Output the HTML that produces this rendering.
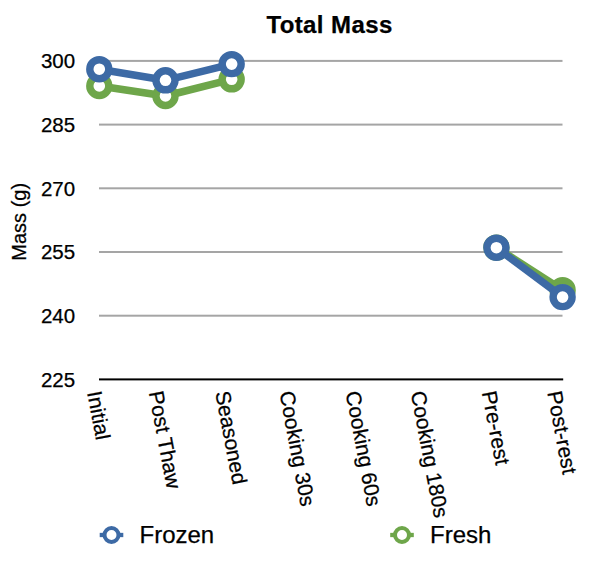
<!DOCTYPE html>
<html><head><meta charset="utf-8"><style>
html,body{margin:0;padding:0;background:#fff;}
svg{display:block;}
text{font-family:"Liberation Sans", sans-serif;fill:#000;stroke:#000;stroke-width:0.25px;}
</style></head><body>
<svg width="600" height="562" viewBox="0 0 600 562">
<rect x="99.0" y="59.90" width="463.5" height="2" fill="#a5a5a5"/>
<rect x="99.0" y="123.60" width="463.5" height="2" fill="#a5a5a5"/>
<rect x="99.0" y="187.30" width="463.5" height="2" fill="#a5a5a5"/>
<rect x="99.0" y="251.00" width="463.5" height="2" fill="#a5a5a5"/>
<rect x="99.0" y="314.70" width="463.5" height="2" fill="#a5a5a5"/>
<rect x="99.0" y="378.40" width="464.2" height="2" fill="#000"/>
<polyline points="99.30,86.00 165.49,96.00 231.67,79.30" fill="none" stroke="#6ea64a" stroke-width="7.5" stroke-linejoin="round"/>
<polyline points="496.41,247.60 562.60,290.20" fill="none" stroke="#6ea64a" stroke-width="7.5" stroke-linejoin="round"/>
<circle cx="99.30" cy="86.00" r="9.50" fill="#fff" stroke="#6ea64a" stroke-width="7.4"/>
<circle cx="165.49" cy="96.00" r="9.50" fill="#fff" stroke="#6ea64a" stroke-width="7.4"/>
<circle cx="231.67" cy="79.30" r="9.50" fill="#fff" stroke="#6ea64a" stroke-width="7.4"/>
<circle cx="496.41" cy="247.60" r="9.50" fill="#fff" stroke="#6ea64a" stroke-width="7.4"/>
<circle cx="562.60" cy="290.20" r="9.50" fill="#fff" stroke="#6ea64a" stroke-width="7.4"/>
<polyline points="99.30,69.20 165.49,80.30 231.67,64.10" fill="none" stroke="#3d6aa5" stroke-width="7.5" stroke-linejoin="round"/>
<polyline points="496.41,247.70 562.60,297.10" fill="none" stroke="#3d6aa5" stroke-width="7.5" stroke-linejoin="round"/>
<circle cx="99.30" cy="69.20" r="9.50" fill="#fff" stroke="#3d6aa5" stroke-width="7.4"/>
<circle cx="165.49" cy="80.30" r="9.50" fill="#fff" stroke="#3d6aa5" stroke-width="7.4"/>
<circle cx="231.67" cy="64.10" r="9.50" fill="#fff" stroke="#3d6aa5" stroke-width="7.4"/>
<circle cx="496.41" cy="247.70" r="9.50" fill="#fff" stroke="#3d6aa5" stroke-width="7.4"/>
<circle cx="562.60" cy="297.10" r="9.50" fill="#fff" stroke="#3d6aa5" stroke-width="7.4"/>
<text x="75.1" y="68.30" text-anchor="end" font-size="20.5">300</text>
<text x="75.1" y="132.00" text-anchor="end" font-size="20.5">285</text>
<text x="75.1" y="195.70" text-anchor="end" font-size="20.5">270</text>
<text x="75.1" y="259.40" text-anchor="end" font-size="20.5">255</text>
<text x="75.1" y="323.10" text-anchor="end" font-size="20.5">240</text>
<text x="75.1" y="386.80" text-anchor="end" font-size="20.5">225</text>
<text transform="translate(25.5,221.8) rotate(-90)" text-anchor="middle" font-size="20">Mass (g)</text>
<text x="329.5" y="33.3" text-anchor="middle" font-size="24" font-weight="bold" letter-spacing="0.4">Total Mass</text>
<text transform="translate(98.90,415.33) rotate(79.3)" text-anchor="middle" dy="0.35em" font-size="21.0">Initial</text>
<text transform="translate(165.09,439.79) rotate(79.3)" text-anchor="middle" dy="0.35em" font-size="21.0">Post Thaw</text>
<text transform="translate(231.27,437.71) rotate(79.3)" text-anchor="middle" dy="0.35em" font-size="21.0">Seasoned</text>
<text transform="translate(297.46,448.59) rotate(79.3)" text-anchor="middle" dy="0.35em" font-size="21.0">Cooking 30s</text>
<text transform="translate(363.64,448.59) rotate(79.3)" text-anchor="middle" dy="0.35em" font-size="21.0">Cooking 60s</text>
<text transform="translate(429.83,454.33) rotate(79.3)" text-anchor="middle" dy="0.35em" font-size="21.0">Cooking 180s</text>
<text transform="translate(496.01,427.93) rotate(79.3)" text-anchor="middle" dy="0.35em" font-size="21.0">Pre-rest</text>
<text transform="translate(562.20,432.52) rotate(79.3)" text-anchor="middle" dy="0.35em" font-size="21.0">Post-rest</text>
<line x1="99.7" y1="535" x2="123.3" y2="535" stroke="#3d6aa5" stroke-width="4.3"/>
<circle cx="111.5" cy="535" r="7.0" fill="#fff" stroke="#3d6aa5" stroke-width="4.0"/>
<text x="139.5" y="543" font-size="24">Frozen</text>
<line x1="390.2" y1="535" x2="413.8" y2="535" stroke="#6ea64a" stroke-width="4.3"/>
<circle cx="402.0" cy="535" r="7.0" fill="#fff" stroke="#6ea64a" stroke-width="4.0"/>
<text x="430.0" y="543" font-size="24">Fresh</text>
</svg>
</body></html>
